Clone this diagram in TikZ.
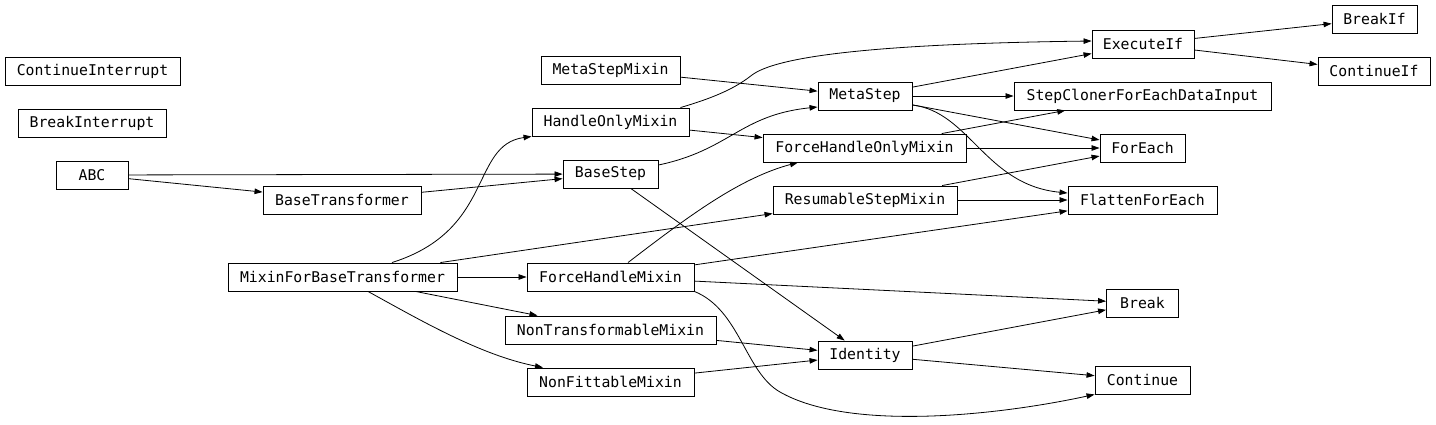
\documentclass[tikz,border=0pt]{standalone}
\usepackage{fontspec}
\setmonofont{DejaVu Sans Mono}
\usetikzlibrary{arrows.meta}
\begin{document}
\begin{tikzpicture}[x=1pt,y=-1pt,
  box/.style={draw=black, line width=0.9pt, inner sep=0pt, minimum height=28pt,
    font=\ttfamily\fontsize{14.8}{16}\selectfont, text=black},
  edge/.style={draw=black, line width=0.8pt, -{Triangle[length=8pt,width=5.5pt]}}]
\useasboundingbox[fill=white] (0,0) rectangle (1436,424);
% nodes
\node[box, minimum width=175pt] (CI) at (92.5,71) {ContinueInterrupt};
\node[box, minimum width=148pt] (BI) at (92,123) {BreakInterrupt};
\node[box, minimum width=72pt] (ABC) at (92,175) {ABC};
\node[box, minimum width=158pt] (BT) at (342,200) {BaseTransformer};
\node[box, minimum width=139pt] (MSM) at (610.5,70) {MetaStepMixin};
\node[box, minimum width=157pt] (HOM) at (610.5,122) {HandleOnlyMixin};
\node[box, minimum width=95pt] (BS) at (610.5,174) {BaseStep};
\node[box, minimum width=94pt] (MS) at (865,96) {MetaStep};
\node[box, minimum width=203pt] (FHOM) at (864.5,148) {ForceHandleOnlyMixin};
\node[box, minimum width=184pt] (RSM) at (865,200) {ResumableStepMixin};
\node[box, minimum width=102pt] (EI) at (1143,44) {ExecuteIf};
\node[box, minimum width=85pt] (BIf) at (1374.5,19) {BreakIf};
\node[box, minimum width=112pt] (CIf) at (1374,71) {ContinueIf};
\node[box, minimum width=257pt] (SC) at (1142.5,96) {StepClonerForEachDataInput};
\node[box, minimum width=85pt] (FE) at (1142.5,148) {ForEach};
\node[box, minimum width=149pt] (FFE) at (1142.5,200) {FlattenForEach};
\node[box, minimum width=229pt] (MfBT) at (342.5,277) {MixinForBaseTransformer};
\node[box, minimum width=167pt] (FHM) at (610.5,277) {ForceHandleMixin};
\node[box, minimum width=211pt] (NTM) at (610.5,330) {NonTransformableMixin};
\node[box, minimum width=167pt] (NFM) at (610.5,382) {NonFittableMixin};
\node[box, minimum width=94pt] (Id) at (865,355) {Identity};
\node[box, minimum width=72pt] (Br) at (1142.5,303) {Break};
\node[box, minimum width=95pt] (Co) at (1142.5,380) {Continue};
% straight edges
\draw[edge] (ABC) -- (BS);
\draw[edge] (ABC) -- (BT);
\draw[edge] (BT) -- (BS);
\draw[edge] (MSM) -- (MS);
\draw[edge] (HOM) -- (FHOM);
\draw[edge] (BS) -- (Id);
\draw[edge] (MS) -- (EI);
\draw[edge] (MS) -- (SC);
\draw[edge] (MS) -- (FE);
\draw[edge] (FHOM) -- (SC);
\draw[edge] (FHOM) -- (FE);
\draw[edge] (RSM) -- (FE);
\draw[edge] (RSM) -- (FFE);
\draw[edge] (EI) -- (BIf);
\draw[edge] (EI) -- (CIf);
\draw[edge] (MfBT) -- (RSM);
\draw[edge] (MfBT) -- (FHM);
\draw[edge] (MfBT) -- (NTM);
\draw[edge] (FHM) -- (FFE);
\draw[edge] (FHM) -- (Br);
\draw[edge] (NTM) -- (Id);
\draw[edge] (NFM) -- (Id);
\draw[edge] (Id) -- (Br);
\draw[edge] (Id) -- (Co);
% curved edges
\draw[edge] ([xshift=-9pt]HOM.north east) .. controls (720,96) and (738,86) .. (752,75)
  .. controls (775,58) and (860,44) .. ([yshift=3pt]EI.west);
\draw[edge] ([yshift=9pt]BS.east) .. controls (730,150) and (740,115) .. ([yshift=-11pt]MS.west);
\draw[edge] ([xshift=49.5pt]MfBT.north) .. controls (495,230) and (470,145) .. (HOM.south west);
\draw[edge] ([xshift=25.5pt]MfBT.south) .. controls (420,320) and (480,355) .. ([xshift=-67.5pt]NFM.north);
\draw[edge] ([xshift=17.5pt]FHM.north) .. controls (690,215) and (740,178) .. ([xshift=-66.5pt]FHOM.south);
\draw[edge] ([yshift=-9pt]MS.east) .. controls (970,112) and (985,185) .. ([yshift=7pt]FFE.west);
\draw[edge] (FHM.south east) .. controls (740,310) and (745,372) .. (780,392)
  .. controls (850,432) and (1000,415) .. (Co.south west);
\end{tikzpicture}
\end{document}
